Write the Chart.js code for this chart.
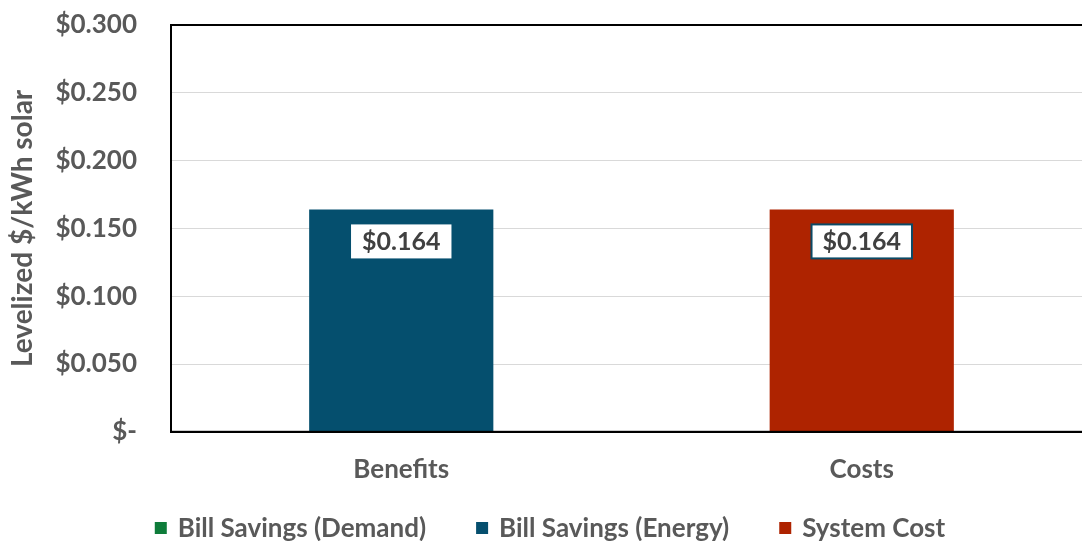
<!DOCTYPE html>
<html><head><meta charset="utf-8">
<script src="https://cdn.jsdelivr.net/npm/chart.js@4/dist/chart.umd.min.js"></script>
<style>html,body{margin:0;padding:0;overflow:hidden;background:#fff}#wrap{width:1100px;height:541px}</style>
</head><body><div id="wrap"><canvas id="c" width="1100" height="541"></canvas></div>
<script>
const categories = ["Benefits", "Costs"];
const demandSavings = [0, null];
const energySavings = [0.164, null];
const systemCost = [null, 0.164];
const yTicks = [0, 0.05, 0.1, 0.15, 0.2, 0.25, 0.3];

const FONT = "Lato";
const TXT = "#595959";

const frame = {
  id: 'frame',
  afterDraw(chart) {
    const {ctx, chartArea: a} = chart;
    ctx.save();
    ctx.strokeStyle = '#000'; ctx.lineWidth = 2;
    ctx.strokeRect(a.left, a.top, a.right - a.left, a.bottom - a.top);
    ctx.restore();
    // total labels
    const n = categories.length;
    ctx.save();
    ctx.font = "bold 25px " + FONT;
    ctx.textAlign = 'center'; ctx.textBaseline = 'middle';
    for (let i = 0; i < n; i++) {
      let total = 0, topBar = null;
      chart.data.datasets.forEach((ds, di) => {
        const v = ds.data[i];
        if (v != null) { total += v; if (v > 0) topBar = chart.getDatasetMeta(di).data[i]; }
      });
      if (!topBar) continue;
      const txt = "$" + total.toFixed(3);
      const w = ctx.measureText(txt).width + 22, h = 34;
      const cx = topBar.x, cy = topBar.y + 32;
      ctx.fillStyle = '#fff';
      ctx.fillRect(cx - w/2, cy - h/2, w, h);
      if (i === 1) { ctx.strokeStyle = '#0b4a66'; ctx.lineWidth = 2; ctx.strokeRect(cx - w/2, cy - h/2, w, h); }
      ctx.fillStyle = '#404040';
      ctx.fillText(txt, cx, cy + 1);
    }
    ctx.restore();
    // legend
    ctx.save();
    ctx.font = "bold 26px " + FONT;
    ctx.textBaseline = 'middle'; ctx.textAlign = 'left';
    const box = 12, tgap = 11, igap = 50, ly = 528;
    const items = chart.data.datasets.map(ds => ({t: ds.label, c: ds.backgroundColor, w: ctx.measureText(ds.label).width}));
    let total = items.reduce((s, it) => s + box + tgap + it.w, 0) + igap * (items.length - 1);
    let x = chart.width / 2 - total / 2;
    items.forEach(it => {
      ctx.fillStyle = it.c;
      ctx.fillRect(x, ly - box/2, box, box);
      ctx.fillStyle = TXT;
      ctx.fillText(it.t, x + box + tgap, ly + 1);
      x += box + tgap + it.w + igap;
    });
    ctx.restore();
  }
};

new Chart(document.getElementById('c'), {
  type: 'bar',
  data: {
    labels: categories,
    datasets: [
      {label: 'Bill Savings (Demand)', data: demandSavings, backgroundColor: '#0e7c3a'},
      {label: 'Bill Savings (Energy)', data: energySavings, backgroundColor: '#054f6e'},
      {label: 'System Cost', data: systemCost, backgroundColor: '#ae2300'}
    ]
  },
  options: {
    responsive: false, animation: false,
    layout: {padding: {top: 25, right: 8, left: 4, bottom: 42}},
    datasets: {bar: {categoryPercentage: 0.4, barPercentage: 1.0, skipNull: true}},
    plugins: {
      legend: {display: false},
      tooltip: {enabled: false}
    },
    scales: {
      x: {
        stacked: true,
        grid: {display: false},
        border: {color: '#000', width: 2},
        ticks: {color: TXT, padding: 14, font: {family: FONT, size: 26, weight: 'bold'}},
        afterFit(s) { s.paddingLeft = 0; s.paddingRight = 0; }
      },
      y: {
        stacked: true, min: 0, max: 0.3,
        afterBuildTicks(axis) { axis.ticks = yTicks.map(v => ({value: v})); },
        afterFit(s) { s.width = 167; s.paddingTop = 0; s.paddingBottom = 0; },
        grid: {color: '#d9d9d9', lineWidth: 1, drawTicks: false},
        border: {color: '#000', width: 2},
        title: {display: true, text: 'Levelized $/kWh solar', color: TXT,
          font: {family: FONT, size: 28, weight: 'bold'}, padding: {top: 2, bottom: 0}},
        ticks: {color: TXT, padding: 34, font: {family: FONT, size: 26, weight: 'bold'},
          callback: v => v === 0 ? "$-" : "$" + Number(v).toFixed(3)}
      }
    }
  },
  plugins: [frame]
});
</script></body></html>
